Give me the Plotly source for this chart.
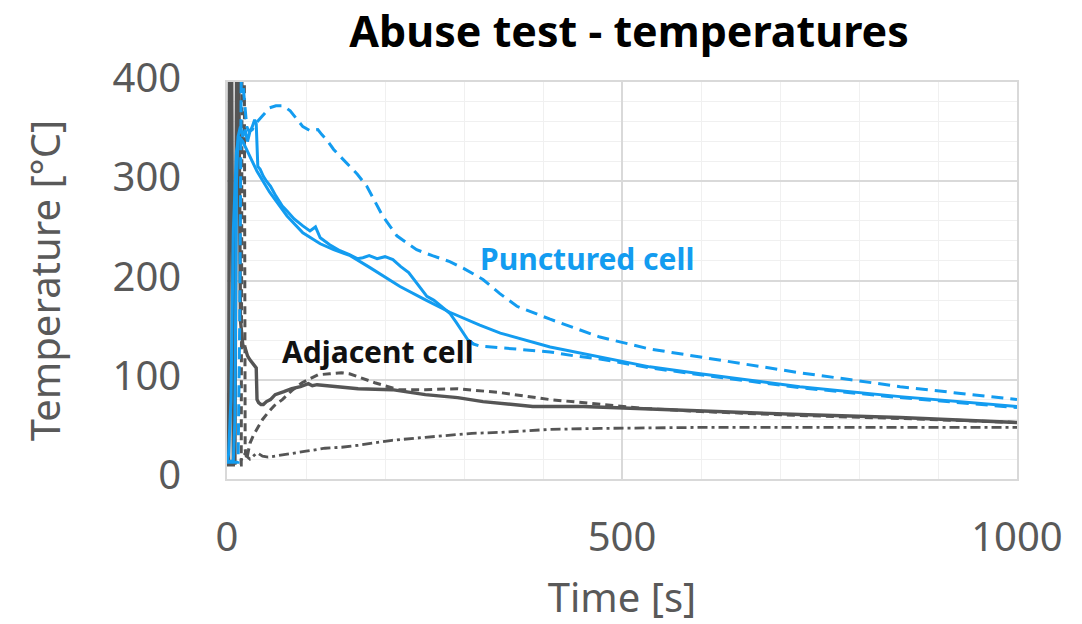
import plotly.graph_objects as go

# ---------------- data ----------------
# Punctured cell - smooth solid trace
b1_t = [0, 2, 5, 8, 12, 15, 20, 25, 38, 54, 76, 96, 118, 135, 156, 181, 219, 250, 282, 320, 346, 409, 472, 535, 599, 725, 852, 1000]
b1_T = [18, 25, 80, 250, 330, 345, 340, 332, 310, 289, 265, 248, 237, 231, 225, 213, 194, 181, 168, 155, 147, 133, 123, 113, 106, 93, 83, 73]

# Punctured cell - dashed trace (highest)
b2_t = [0, 14, 16, 18, 20, 22, 25, 28, 32, 36, 40, 45, 54, 62, 71, 80, 88, 96, 105, 115, 120, 126, 135, 151, 165, 177, 197, 215, 240, 260, 282, 300, 324, 345, 367, 409, 472, 535, 599, 660, 725, 790, 852, 920, 1000]
b2_T = [17, 17, 150, 400, 400, 380, 355, 350, 352, 358, 362, 366, 374, 376, 376, 371, 363, 355, 351, 352, 347, 342, 332, 319, 307, 295, 265, 245, 231, 225, 219, 212, 201, 187, 174, 161, 143, 131, 123, 115, 107, 100, 93, 87, 80]

# Punctured cell - noisy trace (solid part, then dashed part)
b3_t = [0, 8, 10, 12, 14, 17, 20, 23, 26, 29, 32, 35, 37, 38, 39, 42, 46, 50, 55, 62, 70, 76, 85, 96, 105, 112, 118, 130, 143, 155, 165, 172, 180, 190, 200, 210, 220, 230, 240, 253, 262, 270, 282, 290, 298, 305, 312]
b3_T = [18, 18, 60, 300, 345, 355, 345, 352, 340, 350, 355, 362, 358, 330, 315, 312, 305, 300, 295, 285, 275, 270, 262, 255, 250, 254, 243, 236, 230, 226, 222, 223, 225, 222, 224, 221, 214, 208, 198, 184, 180, 175, 167, 158, 148, 140, 136]
b3d_t = [305, 312, 320, 335, 350, 380, 409, 440, 472, 535, 599, 725, 852, 1000]
b3d_T = [140, 136, 134, 133, 132, 130, 128, 124, 121, 112, 105, 92, 82, 72]

# Adjacent cell - solid trace
g1_t = [0, 2, 3, 6, 8, 10, 12, 15, 17, 20, 23, 26, 29, 32, 35, 37, 38, 40, 43, 46, 50, 55, 61, 66, 72, 82, 93, 103, 108, 114, 124, 140, 166, 209, 251, 292, 324, 387, 451, 514, 599, 725, 852, 1000]
g1_T = [15, 15, 400, 400, 16, 16, 400, 400, 160, 135, 132, 124, 120, 117, 115, 112, 80, 77, 75, 75, 78, 80, 85, 86, 88, 91, 93, 96, 94, 95, 94, 93, 91, 90, 85, 82, 78, 73, 73, 71, 69, 65, 62, 57]

# Adjacent cell - dashed trace
g2_t = [0, 18, 19, 22, 23, 25, 27, 29, 34, 39, 45, 52, 60, 70, 82, 95, 105, 115, 130, 145, 155, 166, 187, 217, 251, 292, 346, 409, 472, 530, 600, 725, 852, 1000]
g2_T = [14, 14, 400, 400, 30, 20, 28, 36, 45, 52, 60, 67, 74, 80, 89, 97, 101, 105, 106, 107, 106, 103, 97, 90, 90, 91, 87, 80, 75, 71, 68, 64, 61, 57]

# Adjacent cell - dash-dot trace
g3_t = [0, 8, 12, 17, 20, 23, 26, 29, 32, 36, 39, 45, 52, 61, 70, 82, 100, 124, 145, 166, 190, 209, 251, 282, 310, 346, 409, 472, 599, 700, 850, 1000]
g3_T = [15, 16, 17, 18, 22, 26, 22, 20, 22, 25, 26, 23, 22, 23, 24, 26, 28, 31, 32, 34, 37, 39, 42, 44, 46, 47, 50, 51, 52, 52, 52, 52]

x_ticks = [0, 500, 1000]
y_ticks = [0, 100, 200, 300, 400]

# ---------------- styling ----------------
BLUE = "#139CF0"
GRAY = "#555555"
FONT = "Noto Sans"
W, H = 1082, 624

fig = go.Figure()

def add(t, T, color, dash, width=3):
    fig.add_trace(go.Scatter(x=t, y=T, mode="lines",
                             line=dict(color=color, width=width, dash=dash),
                             showlegend=False, hoverinfo="skip"))

add(g3_t, g3_T, GRAY, "10px,4px,3px,4px", 2.8)
add(g2_t, g2_T, GRAY, "8px,5px", 3)
add(g1_t, g1_T, GRAY, "solid", 3.4)
add(b2_t, b2_T, BLUE, "12px,7px", 3)
add(b3d_t, b3d_T, BLUE, "12px,7px", 3)
add(b3_t, b3_T, BLUE, "solid", 3)
add(b1_t, b1_T, BLUE, "solid", 3)

fig.update_layout(
    width=W, height=H,
    margin=dict(l=227, r=65, t=82, b=145, autoexpand=False),
    paper_bgcolor="white", plot_bgcolor="white",
    font=dict(family=FONT, color="#595959"),
    title=dict(text="<b>Abuse test - temperatures</b>",
               font=dict(family=FONT, size=43, color="black"),
               x=0.509, xref="paper", xanchor="center",
               y=1 - 17 / H, yref="container", yanchor="top"),
    annotations=[
        dict(x=456, y=222, xref="x", yref="y", text="<b>Punctured cell</b>",
             showarrow=False, font=dict(family=FONT, size=30, color=BLUE)),
        dict(x=191, y=128, xref="x", yref="y", text="<b>Adjacent cell</b>",
             showarrow=False, font=dict(family=FONT, size=30, color="#111111")),
    ],
)

fig.update_xaxes(range=[0, 1000], tickvals=x_ticks, ticktext=[str(v) for v in x_ticks],
                 tickfont=dict(size=40, color="#595959"),
                 ticklabelstandoff=22, automargin=False,
                 showgrid=True, gridcolor="#D9D9D9", gridwidth=1.6,
                 zeroline=False, showline=True, linecolor="#D9D9D9", linewidth=1.6, mirror=True,
                 ticks="",
                 minor=dict(dtick=100, showgrid=True, gridcolor="#F0F0F0", gridwidth=1.4),
                 title=dict(text="Time [s]", font=dict(size=40, color="#595959"), standoff=28))
fig.update_yaxes(range=[0, 400], tickvals=y_ticks, ticktext=[str(v) for v in y_ticks],
                 tickfont=dict(size=40, color="#595959"),
                 ticklabelstandoff=36, ticklabelshift=-4, automargin=False,
                 showgrid=True, gridcolor="#D9D9D9", gridwidth=1.6,
                 zeroline=False, showline=True, linecolor="#D9D9D9", linewidth=1.6, mirror=True,
                 ticks="",
                 minor=dict(dtick=20, showgrid=True, gridcolor="#F0F0F0", gridwidth=1.4),
                 title=dict(text="Temperature [°C]", font=dict(size=40, color="#595959"), standoff=40))

fig.write_html("out.html", config={"displayModeBar": False},
               post_script="document.body.style.margin='0';")
